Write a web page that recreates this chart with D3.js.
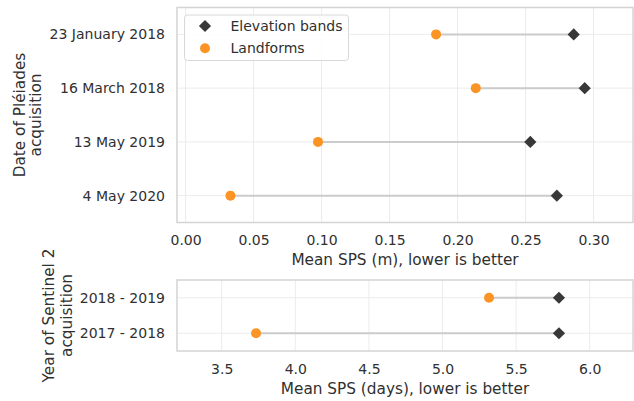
<!DOCTYPE html>
<html>
<head>
<meta charset="utf-8">
<script src="https://cdn.jsdelivr.net/npm/d3@7"></script>
<style>
  body { margin: 0; background: #fff; }
  svg text { font-family: "DejaVu Sans", sans-serif; fill: #303030; }
</style>
</head>
<body>
<div id="chart"></div>
<script>
// data
var pleiadesDates = ["23 January 2018", "16 March 2018", "13 May 2019", "4 May 2020"];
var pleiadesElevation = [0.2854, 0.2935, 0.2535, 0.2730];
var pleiadesLandforms = [0.1842, 0.2134, 0.0974, 0.0330];
var topTicks = [0.00, 0.05, 0.10, 0.15, 0.20, 0.25, 0.30];

var sentinelYears = ["2018 - 2019", "2017 - 2018"];
var sentinelElevation = [5.791, 5.791];
var sentinelLandforms = [5.316, 3.733];
var bottomTicks = [3.5, 4.0, 4.5, 5.0, 5.5, 6.0];

var legendNames = ["Elevation bands", "Landforms"];

var W = 634, H = 401;
var orange = "#fb9424", dark = "#383838";

var svg = d3.select("#chart").append("svg")
    .attr("width", W).attr("height", H);

var diamond = d3.symbol().type(d3.symbolDiamond2 || d3.symbolDiamond).size(95);

function panel(opt) {
  var x = d3.scaleLinear().domain(opt.xDomain).range([opt.left, opt.right]);
  var y = d3.scalePoint().domain(opt.cats).range([opt.top, opt.bottom]).padding(0.5);
  var g = svg.append("g");

  // grid
  g.selectAll(".vgrid").data(opt.ticks).enter().append("line")
      .attr("x1", d => x(d)).attr("x2", d => x(d))
      .attr("y1", opt.top).attr("y2", opt.bottom)
      .attr("stroke", "#ececec").attr("stroke-width", 1);
  g.selectAll(".hgrid").data(opt.cats).enter().append("line")
      .attr("x1", opt.left).attr("x2", opt.right)
      .attr("y1", d => y(d)).attr("y2", d => y(d))
      .attr("stroke", "#ececec").attr("stroke-width", 1);

  // frame
  g.append("rect")
      .attr("x", opt.left).attr("y", opt.top)
      .attr("width", opt.right - opt.left).attr("height", opt.bottom - opt.top)
      .attr("fill", "none").attr("stroke", "#d4d4d4").attr("stroke-width", 1.5);

  // axes
  var xa = g.append("g")
      .attr("transform", "translate(0," + opt.bottom + ")")
      .call(d3.axisBottom(x).tickValues(opt.ticks).tickFormat(opt.fmt).tickSize(0).tickPadding(opt.tickPad));
  xa.select(".domain").remove();
  xa.selectAll("text").style("font-size", "14px").attr("fill", "#303030");

  var ya = g.append("g")
      .attr("transform", "translate(" + opt.left + ",0)")
      .call(d3.axisLeft(y).tickSize(0).tickPadding(12));
  ya.select(".domain").remove();
  ya.selectAll("text").style("font-size", "14px").attr("fill", "#303030");

  // connectors
  g.selectAll(".conn").data(opt.cats).enter().append("line")
      .attr("x1", (d, i) => x(opt.land[i])).attr("x2", (d, i) => x(opt.elev[i]))
      .attr("y1", d => y(d)).attr("y2", d => y(d))
      .attr("stroke", "#cbcbcb").attr("stroke-width", 2);

  g.selectAll(".land").data(opt.cats).enter().append("circle")
      .attr("cx", (d, i) => x(opt.land[i])).attr("cy", d => y(d))
      .attr("r", 5).attr("fill", orange);

  g.selectAll(".elev").data(opt.cats).enter().append("path")
      .attr("d", diamond)
      .attr("transform", (d, i) => "translate(" + x(opt.elev[i]) + "," + y(d) + ")")
      .attr("fill", dark);

  // x label
  g.append("text")
      .attr("x", (opt.left + opt.right) / 2).attr("y", opt.xLabelY)
      .attr("text-anchor", "middle").style("font-size", "15.3px")
      .text(opt.xLabel);

  // y label, two lines
  var cy = (opt.top + opt.bottom) / 2;
  opt.yLabel.forEach(function(t, i) {
    g.append("text")
        .attr("transform", "translate(" + opt.yLabelX[i] + "," + cy + ") rotate(-90)")
        .attr("text-anchor", "middle").style("font-size", "15.3px")
        .text(t);
  });
  return {x: x, y: y};
}

panel({
  cats: pleiadesDates, elev: pleiadesElevation, land: pleiadesLandforms,
  ticks: topTicks, fmt: d3.format(".2f"),
  xDomain: [-0.0063, 0.329],
  left: 177, right: 633, top: 7.5, bottom: 222.5, tickPad: 13,
  xLabel: "Mean SPS (m), lower is better", xLabelY: 265,
  yLabel: ["Date of Pléiades", "acquisition"], yLabelX: [25, 41]
});

panel({
  cats: sentinelYears, elev: sentinelElevation, land: sentinelLandforms,
  ticks: bottomTicks, fmt: d3.format(".1f"),
  xDomain: [3.196, 6.294],
  left: 177, right: 633, top: 280, bottom: 351, tickPad: 13,
  xLabel: "Mean SPS (days), lower is better", xLabelY: 394,
  yLabel: ["Year of Sentinel 2", "acquisition"], yLabelX: [54, 72]
});

// legend
var lg = svg.append("g");
lg.append("rect")
    .attr("x", 184.5).attr("y", 15).attr("width", 164).attr("height", 45.5)
    .attr("rx", 3).attr("fill", "#fff").attr("fill-opacity", 0.85)
    .attr("stroke", "#d8d8d8").attr("stroke-width", 1);
var ly = d3.scalePoint().domain(legendNames).range([26, 48.3]);
lg.append("path").attr("d", diamond)
    .attr("transform", "translate(205," + ly(legendNames[0]) + ")").attr("fill", dark);
lg.append("circle").attr("cx", 205).attr("cy", ly(legendNames[1])).attr("r", 5).attr("fill", orange);
lg.selectAll(".lt").data(legendNames).enter().append("text")
    .attr("x", 230.5).attr("y", d => ly(d) + 5)
    .style("font-size", "14px")
    .text(d => d);
</script>
</body>
</html>
